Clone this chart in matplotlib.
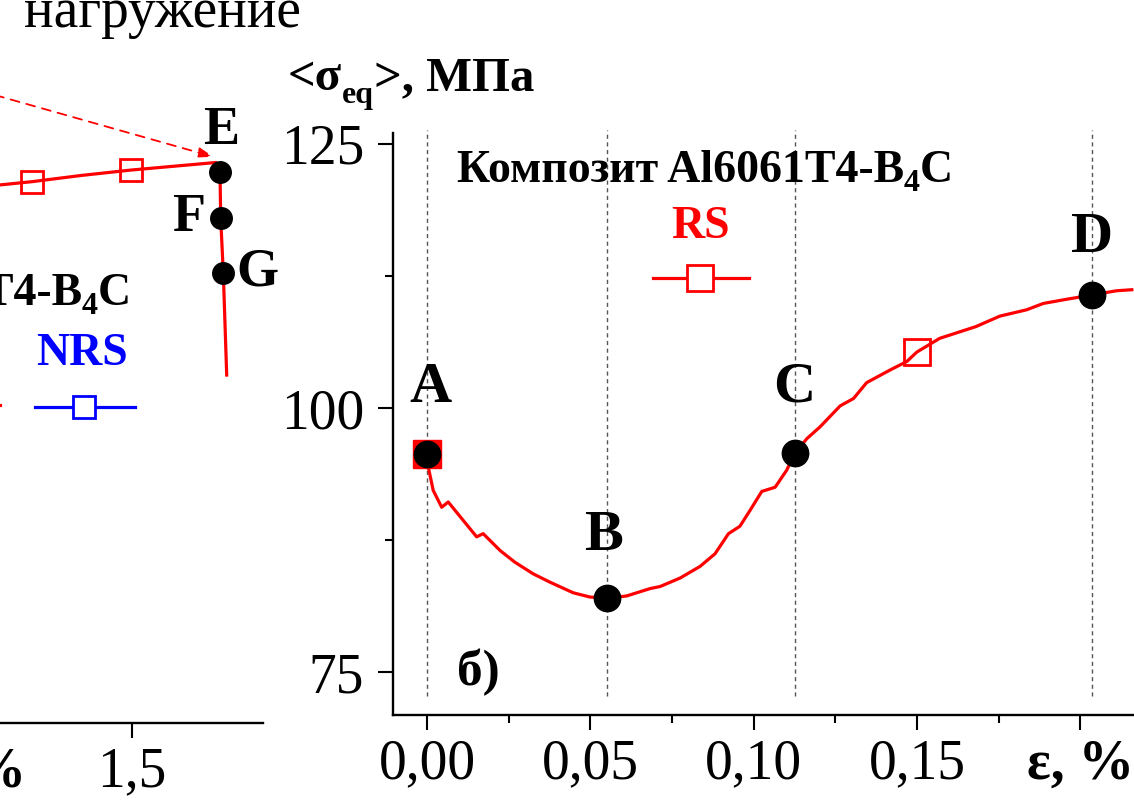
import matplotlib
matplotlib.use("Agg")
import matplotlib.pyplot as plt
from matplotlib.ticker import FixedLocator, MultipleLocator

plt.rcParams['font.family'] = ['Liberation Serif', 'DejaVu Serif']

W, H = 1134, 809
DPI = 100

# ---------------- data: right panel (б) ----------------
eps_curve = [0.0, 0.0004, 0.0019, 0.0045, 0.0065, 0.0111, 0.0152, 0.0172, 0.0224,
             0.0269, 0.0325, 0.0377, 0.0448, 0.0499, 0.0551, 0.0611, 0.0683, 0.0714,
             0.0775, 0.0836, 0.0882, 0.0923, 0.0958, 0.0989, 0.1025, 0.1066, 0.1101,
             0.1127, 0.1163, 0.1203, 0.1265, 0.1306, 0.1346, 0.1418, 0.1469, 0.1500,
             0.1570, 0.1680, 0.1754, 0.1836, 0.1887, 0.1959, 0.2036, 0.2111, 0.2158]
sig_curve = [95.6, 94.4, 92.2, 90.6, 91.1, 89.35, 87.8, 88.1, 86.5,
             85.4, 84.3, 83.5, 82.5, 82.1, 82.0, 82.2, 82.9, 83.1,
             83.9, 85.0, 86.2, 88.1, 88.8, 90.3, 92.1, 92.5, 94.1,
             95.7, 97.1, 98.2, 100.2, 100.9, 102.4, 103.6, 104.4, 105.3,
             106.6, 107.7, 108.7, 109.3, 109.9, 110.3, 110.7, 111.1, 111.2]

pt_labels = ['A', 'B', 'C', 'D']
pt_eps = [0.0, 0.0551, 0.1127, 0.2036]
pt_sig = [95.6, 82.0, 95.7, 110.7]

sq_eps = [0.150]
sq_sig = [105.3]

xticks_major = [0.00, 0.05, 0.10, 0.15, 0.20]
xtick_labels = ['0,00', '0,05', '0,10', '0,15', 'ε, %']
yticks_major = [75, 100, 125]
ytick_labels = ['75', '100', '125']

# ---------------- data: left panel (partly visible) ----------------
l_eps = [1.0692, 1.1846, 1.3400, 1.4959, 1.7642, 1.7767, 1.7789, 1.7871, 1.7978]
l_sig = [318.9, 321.1, 324.8, 328.0, 332.5, 327.1, 299.4, 267.1, 206.4]
l_sq_eps = [1.1846, 1.4959]
l_sq_sig = [321.1, 328.0]
l_pt_labels = ['E', 'F', 'G']
l_pt_eps = [1.7767, 1.7789, 1.7871]
l_pt_sig = [327.1, 299.4, 267.1]
arrow_from = (1.0692, 372.5)
arrow_to = (1.7557, 335.9)
l_xticks = [1.0, 1.5]
l_xtick_labels = ['ε, %', '1,5']

RED = '#ff0000'
BLUE = '#0000ff'

fig = plt.figure(figsize=(W / DPI, H / DPI), dpi=DPI)


def fx(px):
    return px / W


def fy(py):
    return 1 - py / H


# ---------- right axes ----------
axR = fig.add_axes([fx(393), fy(715), fx(1134) - fx(393), fy(133) - fy(715)])
axR.set_xlim(-0.01041, 0.21647)
axR.set_ylim(70.93, 126.04)
for s in ['top', 'right']:
    axR.spines[s].set_visible(False)
for s in ['left', 'bottom']:
    axR.spines[s].set_linewidth(1.7)

axR.xaxis.set_major_locator(FixedLocator(xticks_major))
axR.set_xticklabels(xtick_labels)
axR.xaxis.set_minor_locator(MultipleLocator(0.025))
axR.yaxis.set_major_locator(FixedLocator(yticks_major))
axR.set_yticklabels(ytick_labels)
axR.yaxis.set_minor_locator(MultipleLocator(12.5))
axR.tick_params(which='major', direction='out', length=10.8, width=1.5,
                labelsize=40, pad=6)
axR.tick_params(which='minor', direction='out', length=5.8, width=1.5)
axR.tick_params(axis='y', pad=10)
for lab in axR.get_xticklabels():
    if 'ε' in lab.get_text():
        lab.set_fontweight('bold')

# dashed verticals
for e in pt_eps:
    axR.plot([e, e], [72.7, 126.3], color='#555555', lw=1.0,
             ls=(0, (3, 2.5)), clip_on=False, zorder=1)

axR.plot(eps_curve, sig_curve, color=RED, lw=2.3, zorder=3, clip_on=False)
axR.plot(sq_eps, sq_sig, ls='none', marker='s', ms=19, mfc='none', mec=RED,
         mew=2.0, zorder=4)
# filled red square under point A
axR.plot(pt_eps[:1], pt_sig[:1], ls='none', marker='s', ms=20, mfc=RED, mec=RED,
         zorder=4)
axR.plot(pt_eps, pt_sig, ls='none', marker='o', ms=19, color='black', zorder=5)

lab_pos = [(0.0009, 101.9), (0.0539, 87.9), (0.1124, 101.9), (0.2036, 116.1)]
for t, (x, y) in zip(pt_labels, lab_pos):
    axR.text(x, y, t, fontsize=42, fontweight='bold', ha='center', va='center')

axR.text(0.0156, 75.0, 'б)', fontsize=37, fontweight='bold', ha='center',
         va='center')

# legend RS
axR.text(0.0836, 116.1, 'RS', fontsize=33, fontweight='bold', color=RED,
         ha='center', va='baseline')
axR.plot([0.0692, 0.0986], [112.3, 112.3], color=RED, lw=2.3, clip_on=False)
axR.plot([0.0836], [112.3], ls='none', marker='s', ms=19, mfc='white', mec=RED,
         mew=2.0)


def composite_title(ax, px, py):
    t1 = fig.text(fx(px), fy(py), 'Композит Al6061T4-B', fontsize=33,
                  fontweight='bold', ha='left', va='baseline')
    t2 = ax.annotate('4', xy=(1, 0), xycoords=t1, xytext=(0, 1),
                     textcoords='offset points', fontsize=23, fontweight='bold',
                     ha='left', va='baseline', annotation_clip=False)
    ax.annotate('C', xy=(1, 0), xycoords=(t2, t1), fontsize=33,
                fontweight='bold', ha='left', va='bottom', annotation_clip=False)


composite_title(axR, 457, 182)

# y label
ty1 = fig.text(fx(288), fy(90), '<σ', fontsize=35, fontweight='bold',
               ha='left', va='baseline')
ty2 = axR.annotate('eq', xy=(1, 0), xycoords=ty1, xytext=(0, -2.5),
                   textcoords='offset points', fontsize=23, fontweight='bold',
                   ha='left', va='baseline', annotation_clip=False)
axR.annotate('>, МПа', xy=(1, 0), xycoords=(ty2, ty1), fontsize=35,
             fontweight='bold', ha='left', va='bottom', annotation_clip=False)

# ---------- left axes (cropped) ----------
left_px, right_px = -700, 263
axL = fig.add_axes([fx(left_px), fy(723), fx(right_px) - fx(left_px), fy(60) - fy(723)])
axL.set_xlim(1.5 + (left_px - 132) / 318, 1.5 + (right_px - 132) / 318)
axL.set_ylim(0, 393.3)
for s in ['top', 'right', 'left']:
    axL.spines[s].set_visible(False)
axL.spines['bottom'].set_linewidth(1.7)
axL.set_yticks([])
axL.xaxis.set_major_locator(FixedLocator(l_xticks))
axL.set_xticklabels(l_xtick_labels)
axL.tick_params(which='major', direction='out', length=10.8, width=1.5,
                labelsize=40, pad=6)
for lab in axL.get_xticklabels():
    if 'ε' in lab.get_text():
        lab.set_fontweight('bold')
axL.patch.set_alpha(0)

axL.plot(l_eps, l_sig, color=RED, lw=2.3, zorder=3)
axL.plot(l_sq_eps, l_sq_sig, ls='none', marker='s', ms=15.5, mfc='none', mec=RED,
         mew=2.0, zorder=4)
axL.plot(l_pt_eps, l_pt_sig, ls='none', marker='o', ms=15.5, color='black',
         zorder=5)
axL.annotate('', xy=arrow_to, xytext=arrow_from,
             arrowprops=dict(arrowstyle='-|>,head_length=0.9,head_width=0.3',
                             color=RED, lw=1.3, ls=(0, (5, 4)),
                             shrinkA=0, shrinkB=0))
l_lab_pos = [(1.780, 351.2), (1.679, 299.6), (1.896, 267.5)]
for t, (x, y) in zip(l_pt_labels, l_lab_pos):
    axL.text(x, y, t, fontsize=39, fontweight='bold', ha='center', va='center')

composite_title(axL, -365, 305)

axL.text(1.343, 212.4, 'NRS', fontsize=33, fontweight='bold', color=BLUE,
         ha='center', va='baseline')
axL.plot([0.802, 1.0849], [188.6, 188.6], color=RED, lw=2.3)
axL.plot([1.195, 1.5094], [187.5, 187.5], color=BLUE, lw=2.3)
axL.plot([1.349], [187.5], ls='none', marker='s', ms=16, mfc='white', mec=BLUE,
         mew=2.0)

fig.text(fx(162), fy(27), 'нагружение', fontsize=40, ha='center', va='baseline')

fig.savefig('out.png', dpi=DPI)
